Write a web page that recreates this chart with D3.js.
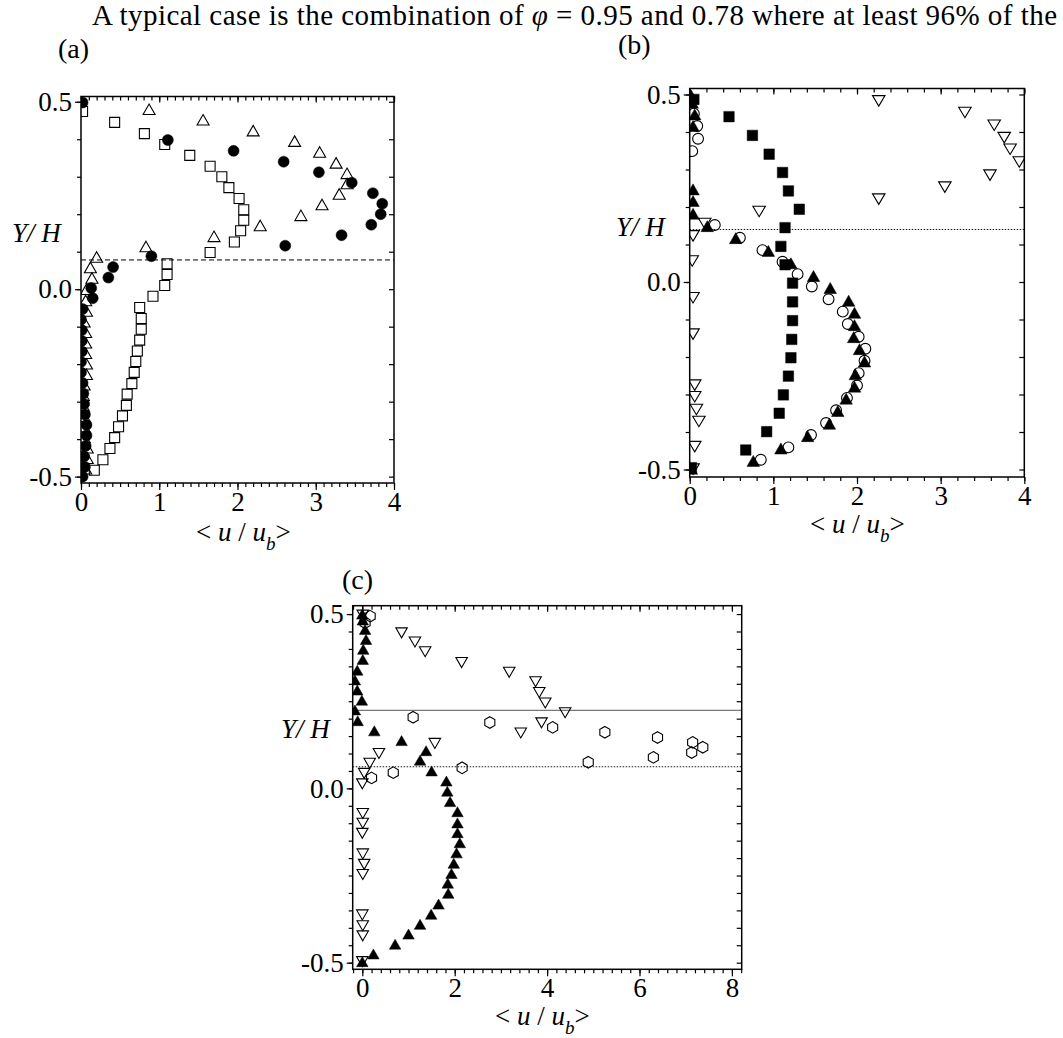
<!DOCTYPE html>
<html>
<head>
<meta charset="utf-8">
<script src="https://cdn.jsdelivr.net/npm/d3@7"></script>
<style>
  body { margin: 0; background: #fff; }
  text { white-space: pre; }
</style>
</head>
<body>
<svg id="chart" width="1063" height="1038"></svg>
<script>
var FONT = "'Liberation Serif', 'Times New Roman', Times, serif";

// ---- panel (a) data: [u/ub, Y/H] ----
var aSquares = [[0.02,0.474],[0.43,0.445],[0.81,0.415],[1.07,0.386],[1.39,0.357],[1.65,0.328],[1.80,0.300],
  [1.89,0.271],[2.02,0.242],[2.08,0.212],[2.08,0.184],[2.04,0.156],[1.96,0.126],[1.65,0.098],[1.10,0.068],
  [1.10,0.039],[1.07,0.010],[0.92,-0.019],[0.75,-0.049],[0.77,-0.078],[0.77,-0.107],[0.75,-0.136],[0.72,-0.165],
  [0.70,-0.193],[0.68,-0.222],[0.65,-0.252],[0.59,-0.280],[0.58,-0.310],[0.53,-0.338],[0.48,-0.367],[0.43,-0.396],
  [0.37,-0.425],[0.28,-0.455],[0.17,-0.483]];
var aTriangles = [[0.87,0.480],[1.56,0.452],[2.20,0.423],[2.73,0.395],[3.05,0.366],[3.26,0.337],[3.40,0.309],
  [3.40,0.282],[3.30,0.254],[3.08,0.226],[2.81,0.197],[2.29,0.170],[1.70,0.141],[0.83,0.114],[0.20,0.086],
  [0.12,0.058],[0.14,0.030],[0.07,0.000],[0.06,-0.030],[0.07,-0.058],[0.04,-0.087],[0.06,-0.115],[0.06,-0.143],
  [0.06,-0.171],[0.07,-0.199],[0.07,-0.227],[0.04,-0.255],[0.03,-0.283],[0.03,-0.311],[0.04,-0.339],[0.04,-0.367],
  [0.04,-0.395],[0.08,-0.423],[0.08,-0.451],[0.06,-0.479]];
var aCircles = [[0.02,0.498],[1.11,0.398],[1.95,0.369],[2.59,0.340],[3.04,0.312],[3.46,0.284],[3.73,0.256],
  [3.85,0.228],[3.83,0.200],[3.71,0.172],[3.33,0.144],[2.61,0.116],[0.90,0.088],[0.41,0.059],[0.35,0.031],
  [0.13,0.003],[0.15,-0.024],[0.02,-0.053],[0.00,-0.081],[0.01,-0.109],[0.01,-0.138],[0.01,-0.166],[0.00,-0.194],
  [0.00,-0.222],[0.02,-0.250],[0.03,-0.278],[0.04,-0.306],[0.05,-0.334],[0.07,-0.362],[0.07,-0.390],[0.06,-0.418],
  [0.04,-0.446],[0.05,-0.474],[0.02,-0.500]];
var aDashY = 0.078;

// ---- panel (b) data ----
var bSquares = [[0.05,0.487],[0.47,0.441],[0.75,0.391],[0.95,0.341],[1.11,0.292],[1.18,0.243],[1.31,0.194],
  [1.14,0.145],[1.09,0.095],[1.14,0.046],[1.23,-0.003],[1.23,-0.053],[1.23,-0.103],[1.22,-0.153],[1.21,-0.202],
  [1.18,-0.251],[1.12,-0.301],[1.07,-0.350],[0.92,-0.399],[0.67,-0.448],[0.02,-0.495]];
var bCircles = [[0.02,0.482],[0.05,0.449],[0.09,0.416],[0.10,0.382],[0.03,0.349],[0.30,0.152],[0.60,0.118],
  [0.87,0.085],[1.11,0.054],[1.29,0.021],[1.46,-0.012],[1.66,-0.046],[1.83,-0.079],[1.89,-0.112],[2.02,-0.146],
  [2.10,-0.178],[2.09,-0.210],[2.02,-0.243],[2.00,-0.276],[1.88,-0.309],[1.75,-0.342],[1.63,-0.376],[1.45,-0.408],
  [1.18,-0.441],[0.85,-0.474]];
var bTriUp = [[0.02,0.497],[0.03,0.478],[0.06,0.447],[0.04,0.416],[0.04,0.247],[0.04,0.216],[0.04,0.182],
  [0.21,0.149],[0.55,0.117],[0.94,0.083],[1.21,0.050],[1.48,0.016],[1.68,-0.016],[1.90,-0.050],[1.97,-0.082],
  [1.97,-0.115],[1.96,-0.147],[2.03,-0.179],[2.09,-0.212],[1.98,-0.246],[1.97,-0.279],[1.87,-0.311],[1.77,-0.344],
  [1.67,-0.378],[1.41,-0.411],[1.09,-0.444],[0.76,-0.477],[0.02,-0.498]];
var bTriDown = [[2.26,0.483],[3.29,0.452],[3.64,0.418],[3.76,0.385],[3.83,0.354],[3.94,0.320],[3.59,0.285],
  [3.05,0.253],[2.26,0.221],[0.83,0.188],[0.18,0.156],[0.04,0.123],[0.03,0.056],[0.04,-0.042],[0.04,-0.139],
  [0.06,-0.275],[0.06,-0.306],[0.08,-0.340],[0.11,-0.372],[0.06,-0.439],[0.04,-0.499]];
var bDotY = 0.14;

// ---- panel (c) data ----
var cTriUp = [[0.00,0.500],[0.01,0.483],[0.06,0.456],[0.08,0.427],[0.02,0.399],[0.01,0.370],[-0.11,0.339],
  [-0.16,0.311],[-0.11,0.282],[-0.01,0.253],[-0.16,0.225],[-0.10,0.194],[0.26,0.165],[0.85,0.137],[1.38,0.108],
  [1.25,0.081],[1.50,0.050],[1.82,0.021],[1.84,-0.008],[1.90,-0.038],[2.06,-0.067],[2.06,-0.099],[2.06,-0.127],
  [2.11,-0.156],[2.04,-0.185],[1.98,-0.215],[1.93,-0.244],[1.85,-0.272],[1.86,-0.301],[1.65,-0.332],[1.49,-0.361],
  [1.25,-0.390],[1.00,-0.418],[0.71,-0.447],[0.24,-0.475],[0.00,-0.497]];
var cTriDown = [[0.01,0.497],[0.85,0.446],[1.14,0.420],[1.36,0.392],[2.15,0.361],[3.18,0.333],[3.75,0.306],
  [3.83,0.275],[3.96,0.245],[4.39,0.217],[3.88,0.188],[3.43,0.159],[1.57,0.129],[0.36,0.100],[0.16,0.072],
  [0.04,0.043],[0.00,0.013],[0.01,-0.072],[0.01,-0.100],[0.00,-0.129],[0.01,-0.188],[0.04,-0.218],[0.01,-0.247],
  [0.00,-0.363],[0.01,-0.394],[0.01,-0.423],[0.00,-0.497]];
var cHexagons = [[0.17,0.494],[0.06,0.475],[1.10,0.204],[2.76,0.189],[4.12,0.175],[5.25,0.161],[6.39,0.146],
  [7.15,0.132],[7.37,0.118],[7.13,0.103],[6.30,0.089],[4.89,0.075],[2.16,0.059],[0.67,0.045],[0.20,0.030]];
var cSolidY = 0.224;
var cDotY = 0.062;

// ---- tick labels ----
var xTicksAB = [0, 1, 2, 3, 4];
var xTicksC = [0, 2, 4, 6, 8];
var yTicks = [-0.5, 0.0, 0.5];

var svg = d3.select("#chart");

// polygon marker shapes
function triPath(w, h, down) {
    var s = down ? -1 : 1;
    return d3.line()([[0, -s * h / 2], [w / 2, s * h / 2], [-w / 2, s * h / 2]]) + "Z";
}
function hexPath(r) {
    var pts = d3.range(6).map(function (i) {
        var a = -Math.PI / 2 + i * Math.PI / 3;
        return [r * Math.cos(a), r * Math.sin(a)];
    });
    return d3.line()(pts) + "Z";
}
function squarePath(s) {
    return "M" + (-s / 2) + "," + (-s / 2) + "h" + s + "v" + s + "h" + (-s) + "Z";
}

function makePanel(o) {
    var x = d3.scaleLinear().domain(o.xDomain).range([o.left, o.right]);
    var y = d3.scaleLinear().domain(o.yDomain).range([o.bottom, o.top]);
    var g = svg.append("g");

    g.append("clipPath").attr("id", o.id)
        .append("rect")
        .attr("x", o.left).attr("y", o.top)
        .attr("width", o.right - o.left).attr("height", o.bottom - o.top);

    function style(sel) {
        sel.select(".domain").remove();
        sel.selectAll("line").attr("stroke", "#000").attr("stroke-width", 1.2);
        sel.attr("font-family", FONT).attr("font-size", 27);
        sel.selectAll("text").attr("fill", "#000");
    }

    // bottom
    g.append("g").attr("transform", "translate(0," + o.bottom + ")")
        .call(d3.axisBottom(x).tickValues(o.xMinor).tickSize(4).tickFormat("")).call(style);
    g.append("g").attr("transform", "translate(0," + o.bottom + ")")
        .call(d3.axisBottom(x).tickValues(o.xMajor).tickSize(7).tickPadding(2).tickFormat(d3.format("d"))).call(style);
    // top
    g.append("g").attr("transform", "translate(0," + o.top + ")")
        .call(d3.axisTop(x).tickValues(o.xMinor).tickSize(-4).tickFormat("")).call(style);
    g.append("g").attr("transform", "translate(0," + o.top + ")")
        .call(d3.axisTop(x).tickValues(o.xMajor).tickSize(-6).tickFormat("")).call(style);
    // left
    g.append("g").attr("transform", "translate(" + o.left + ",0)")
        .call(d3.axisLeft(y).tickValues(o.yMinor).tickSize(4).tickFormat("")).call(style);
    g.append("g").attr("transform", "translate(" + o.left + ",0)")
        .call(d3.axisLeft(y).tickValues(yTicks).tickSize(6).tickPadding(3)
            .tickFormat(function (d) { return d.toFixed(1); })).call(style);
    // right
    g.append("g").attr("transform", "translate(" + o.right + ",0)")
        .call(d3.axisRight(y).tickValues(o.yMinor).tickSize(-5).tickFormat("")).call(style);

    var plot = g.append("g").attr("clip-path", "url(#" + o.id + ")");

    g.append("rect")
        .attr("x", o.left).attr("y", o.top)
        .attr("width", o.right - o.left).attr("height", o.bottom - o.top)
        .attr("fill", "none").attr("stroke", "#000").attr("stroke-width", 1.5);

    // Y/H label
    g.append("text").attr("x", o.yLab[0]).attr("y", o.yLab[1])
        .attr("font-family", FONT).attr("font-size", 27).attr("font-style", "italic")
        .text("Y/ H");

    // < u / u_b > label
    var t = g.append("text").attr("x", o.xLab[0]).attr("y", o.xLab[1])
        .attr("font-family", FONT).attr("font-size", 27);
    t.append("tspan").text("< ");
    t.append("tspan").attr("font-style", "italic").text("u");
    t.append("tspan").text(" / ");
    t.append("tspan").attr("font-style", "italic").text("u");
    t.append("tspan").attr("font-style", "italic").attr("font-size", 19).attr("dy", 9).text("b");
    t.append("tspan").attr("dy", -9).text(">");

    // panel letter
    g.append("text").attr("x", o.letter[0]).attr("y", o.letter[1])
        .attr("font-family", FONT).attr("font-size", 28).text(o.name);

    return { plot: plot, x: x, y: y, o: o };
}

function hline(p, val, stroke, width, dash) {
    p.plot.append("line")
        .attr("x1", p.o.left).attr("x2", p.o.right)
        .attr("y1", p.y(val)).attr("y2", p.y(val))
        .attr("stroke", stroke).attr("stroke-width", width)
        .attr("stroke-dasharray", dash);
}

function markers(p, data, shape, filled) {
    p.plot.append("g").selectAll("path")
        .data(data)
        .enter()
        .append("path")
        .attr("transform", function (d) { return "translate(" + p.x(d[0]) + "," + p.y(d[1]) + ")"; })
        .attr("d", shape)
        .attr("fill", filled ? "#000" : "none")
        .attr("stroke", "#000")
        .attr("stroke-width", filled ? 0.5 : 1.1);
}

var circleA = d3.symbol().type(d3.symbolCircle).size(Math.PI * 5.5 * 5.5)();
var circleB = d3.symbol().type(d3.symbolCircle).size(Math.PI * 5.4 * 5.4)();

// ---- title line ----
var title = svg.append("text").attr("x", 92).attr("y", 25)
    .attr("font-family", FONT).attr("font-size", 29)
    .attr("textLength", 965).attr("lengthAdjust", "spacing");
title.append("tspan").text("A typical case is the combination of ");
title.append("tspan").attr("font-style", "italic").text("\u03c6");
title.append("tspan").text(" = 0.95 and 0.78 where at least 96% of the");

// ---- panel (a) ----
var pa = makePanel({
    id: "clipA", name: "(a)",
    left: 81, right: 394, top: 96.5, bottom: 483,
    xDomain: [0, 4], yDomain: [-0.517, 0.514],
    xMajor: xTicksAB, xMinor: d3.range(0, 41).map(function (i) { return i / 10; }),
    yMinor: d3.range(-5, 6).map(function (i) { return i / 10; }),
    yLab: [12, 242], xLab: [196, 541], letter: [58, 58]
});
hline(pa, aDashY, "#000", 1, "5,3");
markers(pa, aSquares, squarePath(10), false);
markers(pa, aTriangles, triPath(12, 10.5, false), false);
markers(pa, aCircles, circleA, true);

// ---- panel (b) ----
var pb = makePanel({
    id: "clipB", name: "(b)",
    left: 689.7, right: 1024.3, top: 88.5, bottom: 477,
    xDomain: [0, 4], yDomain: [-0.52, 0.516],
    xMajor: xTicksAB, xMinor: d3.range(0, 21).map(function (i) { return i / 5; }),
    yMinor: d3.range(-5, 6).map(function (i) { return i / 10; }),
    yLab: [616, 236], xLab: [810, 533], letter: [618, 54]
});
hline(pb, bDotY, "#000", 0.9, "1.5,1.5");
markers(pb, bTriDown, triPath(12.5, 10.5, true), false);
markers(pb, bSquares, squarePath(10.5), true);
markers(pb, bCircles, circleB, false);
markers(pb, bTriUp, triPath(12.5, 11, false), true);

// ---- panel (c) ----
var pc = makePanel({
    id: "clipC", name: "(c)",
    left: 352.7, right: 741.7, top: 605.7, bottom: 969.3,
    xDomain: [-0.208, 8.212], yDomain: [-0.519, 0.524],
    xMajor: xTicksC, xMinor: d3.range(-1, 42).map(function (i) { return i / 5; }),
    yMinor: d3.range(-10, 11).map(function (i) { return i / 20; }),
    yLab: [281, 738], xLab: [495, 1025], letter: [342, 589]
});
hline(pc, cSolidY, "#777", 1.3, null);
hline(pc, cDotY, "#000", 0.9, "1.5,1.5");
markers(pc, cHexagons, hexPath(5.8), false);
markers(pc, cTriDown, triPath(11.5, 10, true), false);
markers(pc, cTriUp, triPath(11.5, 10, false), true);
</script>
</body>
</html>
